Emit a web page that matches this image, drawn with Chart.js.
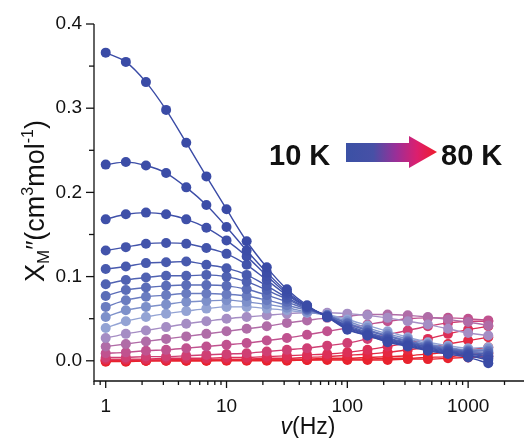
<!DOCTYPE html>
<html>
<head>
<meta charset="utf-8">
<script src="https://cdn.jsdelivr.net/npm/chart.js@4.4.1/dist/chart.umd.min.js"></script>
<style>
html, body { margin: 0; padding: 0; background: #fff; }
#wrap { width: 529px; height: 438px; position: relative; }
</style>
</head>
<body>
<div id="wrap"><canvas id="acChart"></canvas></div>
<script>
// frequencies (Hz), 6 per decade
var freqs = [1, 1.468, 2.154, 3.162, 4.642, 6.813, 10, 14.68, 21.54, 31.62, 46.42, 68.13, 100, 146.8, 215.4, 316.2, 464.2, 681.3, 1000, 1468];

// chi'' values, lowest temperature first
var s01 = [0.366, 0.355, 0.331, 0.298, 0.259, 0.219, 0.180, 0.142, 0.111, 0.085, 0.066, 0.052, 0.037, 0.030, 0.022, 0.017, 0.012, 0.008, 0.004, -0.003];
var s02 = [0.233, 0.236, 0.232, 0.223, 0.206, 0.185, 0.159, 0.131, 0.105, 0.082, 0.065, 0.052, 0.038, 0.030, 0.023, 0.018, 0.013, 0.009, 0.006, 0.001];
var s03 = [0.168, 0.174, 0.176, 0.174, 0.168, 0.158, 0.143, 0.124, 0.101, 0.080, 0.064, 0.052, 0.039, 0.031, 0.024, 0.019, 0.014, 0.010, 0.007, 0.003];
var s04 = [0.131, 0.135, 0.139, 0.140, 0.139, 0.134, 0.127, 0.114, 0.096, 0.078, 0.064, 0.053, 0.040, 0.032, 0.025, 0.020, 0.015, 0.011, 0.008, 0.005];
var s05 = [0.109, 0.112, 0.116, 0.117, 0.118, 0.114, 0.110, 0.102, 0.089, 0.075, 0.063, 0.053, 0.041, 0.033, 0.026, 0.021, 0.016, 0.012, 0.009, 0.006];
var s06 = [0.091, 0.096, 0.099, 0.101, 0.101, 0.102, 0.100, 0.094, 0.084, 0.073, 0.062, 0.053, 0.042, 0.034, 0.027, 0.022, 0.017, 0.013, 0.010, 0.008];
var s07 = [0.077, 0.084, 0.087, 0.089, 0.090, 0.090, 0.089, 0.085, 0.078, 0.070, 0.061, 0.054, 0.044, 0.036, 0.029, 0.023, 0.018, 0.014, 0.011, 0.010];
var s08 = [0.064, 0.072, 0.076, 0.078, 0.080, 0.080, 0.079, 0.077, 0.072, 0.066, 0.060, 0.054, 0.045, 0.037, 0.030, 0.024, 0.019, 0.015, 0.012, 0.012];
var s09 = [0.052, 0.060, 0.064, 0.067, 0.070, 0.071, 0.072, 0.070, 0.067, 0.063, 0.058, 0.054, 0.047, 0.039, 0.032, 0.026, 0.020, 0.016, 0.013, 0.014];
var s10 = [0.039, 0.047, 0.052, 0.056, 0.059, 0.062, 0.064, 0.064, 0.062, 0.060, 0.057, 0.055, 0.049, 0.042, 0.035, 0.028, 0.022, 0.018, 0.015, 0.016];
var s11 = [0.027, 0.032, 0.036, 0.040, 0.044, 0.047, 0.050, 0.052, 0.054, 0.056, 0.057, 0.057, 0.056, 0.054, 0.051, 0.047, 0.043, 0.038, 0.033, 0.030];
var s12 = [0.017, 0.020, 0.023, 0.026, 0.029, 0.032, 0.035, 0.038, 0.041, 0.045, 0.048, 0.051, 0.053, 0.055, 0.055, 0.054, 0.052, 0.049, 0.046, 0.042];
var s13 = [0.009, 0.010, 0.012, 0.013, 0.015, 0.017, 0.019, 0.021, 0.024, 0.027, 0.031, 0.035, 0.039, 0.043, 0.047, 0.050, 0.051, 0.051, 0.050, 0.048];
var s14 = [0.004, 0.004, 0.005, 0.005, 0.006, 0.007, 0.008, 0.009, 0.011, 0.013, 0.015, 0.018, 0.021, 0.026, 0.031, 0.036, 0.041, 0.045, 0.047, 0.047];
var s15 = [0.002, 0.002, 0.002, 0.003, 0.003, 0.003, 0.004, 0.004, 0.005, 0.006, 0.007, 0.008, 0.010, 0.013, 0.017, 0.021, 0.026, 0.032, 0.037, 0.041];
var s16 = [0.001, 0.001, 0.001, 0.001, 0.002, 0.002, 0.002, 0.002, 0.003, 0.003, 0.004, 0.005, 0.0065, 0.008, 0.010, 0.013, 0.016, 0.020, 0.024, 0.028];
var s17 = [0.000, 0.000, 0.000, 0.001, 0.001, 0.001, 0.001, 0.001, 0.002, 0.002, 0.002, 0.003, 0.003, 0.004, 0.005, 0.006, 0.008, 0.010, 0.013, 0.016];
var s18 = [0.000, 0.000, 0.000, 0.000, 0.000, 0.000, 0.001, 0.001, 0.001, 0.001, 0.001, 0.002, 0.002, 0.002, 0.003, 0.003, 0.004, 0.005, 0.007, 0.009];
var s19 = [-0.001, -0.001, 0.000, 0.000, 0.000, 0.000, 0.000, 0.000, 0.000, 0.000, 0.001, 0.001, 0.001, 0.001, 0.001, 0.002, 0.002, 0.003, 0.004, 0.005];

var allSeries = [s01, s02, s03, s04, s05, s06, s07, s08, s09, s10, s11, s12, s13, s14, s15, s16, s17, s18, s19];
var colours = ['#3a4ba6', '#3c4da7', '#3f50a9', '#4354ab', '#485aae', '#5062b2', '#5b6db8', '#6a7cc0', '#7d90ca', '#93a3d4',
               '#a58dc4', '#b06ca7', '#c0528f', '#cf3f74', '#dc2f57', '#e42842', '#e8232f', '#e8232e', '#e8222d'];

var yTicks = [0, 0.1, 0.2, 0.3, 0.4];
var xTicks = [1, 10, 100, 1000];

var FONT = '"Liberation Sans", Arial, sans-serif';

var datasets = [];
for (var i = 0; i < allSeries.length; i++) {
    var pts = [];
    for (var j = 0; j < freqs.length; j++) {
        pts.push({x: freqs[j], y: allSeries[i][j]});
    }
    datasets.push({
        data: pts,
        borderColor: colours[i],
        backgroundColor: colours[i],
        pointBackgroundColor: colours[i],
        pointBorderWidth: 0,
        pointRadius: 5,
        borderWidth: 1.4,
        cubicInterpolationMode: 'monotone',
        fill: false
    });
}

// axis lines, tick marks, titles and the 10 K -> 80 K arrow
var extras = {
    id: 'extras',
    afterDraw: function(chart) {
        var c = chart.ctx, xs = chart.scales.x, ys = chart.scales.y, a = chart.chartArea;
        c.save();
        c.strokeStyle = '#111';
        c.lineWidth = 1.3;
        c.beginPath();
        c.moveTo(a.left, a.top);
        c.lineTo(a.left, a.bottom);
        c.lineTo(a.right, a.bottom);
        c.stroke();
        // x ticks (log minors)
        for (var d = -1; d <= 3; d++) {
            for (var m = 1; m <= 9; m++) {
                var v = m * Math.pow(10, d);
                if (v < xs.min || v > xs.max) continue;
                var px = xs.getPixelForValue(v);
                var len = (m == 1) ? 7 : 4;
                c.beginPath(); c.moveTo(px, a.bottom); c.lineTo(px, a.bottom + len); c.stroke();
            }
        }
        // y ticks
        for (var k = 0; k <= 8; k++) {
            var py = ys.getPixelForValue(k * 0.05);
            var ln = (k % 2 == 0) ? 8 : 5;
            c.beginPath(); c.moveTo(a.left, py); c.lineTo(a.left - ln, py); c.stroke();
        }

        c.fillStyle = '#111';
        c.textBaseline = 'alphabetic';
        c.textAlign = 'left';
        // y title, rotated, reads bottom to top
        c.save();
        c.translate(44, 282);
        c.rotate(-Math.PI / 2);
        var parts = [
            {t: 'X', s: 27, dy: 0}, {t: 'M', s: 17, dy: 5}, {t: '\u2033', s: 26, dy: 0},
            {t: '(cm', s: 27, dy: 0}, {t: '3', s: 16, dy: -11}, {t: 'mol', s: 27, dy: 0},
            {t: '-1', s: 16, dy: -11}, {t: ')', s: 27, dy: 0}
        ];
        var x = 0;
        parts.forEach(function(p) {
            c.font = p.s + 'px ' + FONT;
            c.fillText(p.t, x, p.dy);
            x += c.measureText(p.t).width;
        });
        c.restore();

        // x title
        c.font = 'italic 23px ' + FONT;
        var w1 = c.measureText('v').width;
        c.font = '23px ' + FONT;
        var w2 = c.measureText('(Hz)').width;
        var sx = 308 - (w1 + w2) / 2;
        c.font = 'italic 23px ' + FONT;
        c.fillText('v', sx, 434);
        c.font = '23px ' + FONT;
        c.fillText('(Hz)', sx + w1, 434);

        // annotation
        c.font = 'bold 29px ' + FONT;
        c.fillStyle = '#111';
        c.fillText('10 K', 269, 165);
        c.fillText('80 K', 441, 165);
        var g = c.createLinearGradient(346, 0, 437, 0);
        g.addColorStop(0, '#3b51a5');
        g.addColorStop(0.3, '#4750a6');
        g.addColorStop(0.55, '#9a2f98');
        g.addColorStop(0.78, '#dc1f6e');
        g.addColorStop(1, '#ee1c2c');
        c.fillStyle = g;
        c.beginPath();
        c.moveTo(346, 143);
        c.lineTo(409, 143);
        c.lineTo(409, 136);
        c.lineTo(437, 152);
        c.lineTo(409, 168);
        c.lineTo(409, 162);
        c.lineTo(346, 162);
        c.closePath();
        c.fill();
        c.restore();
    }
};

new Chart(document.getElementById('acChart'), {
    type: 'line',
    data: {datasets: datasets},
    plugins: [extras],
    options: {
        responsive: true,
        maintainAspectRatio: false,
        animation: false,
        layout: {padding: {top: 24, right: 0, left: 0, bottom: 0}},
        plugins: {legend: {display: false}, tooltip: {enabled: false}},
        scales: {
            x: {
                type: 'logarithmic',
                min: 0.8,
                max: 2900,
                grid: {display: false, drawTicks: false},
                border: {display: false},
                afterBuildTicks: function(scale) {
                    scale.ticks = xTicks.map(function(v) { return {value: v}; });
                },
                afterFit: function(scale) { scale.height = 57; },
                ticks: {
                    autoSkip: false,
                    maxRotation: 0,
                    padding: 14,
                    color: '#111',
                    font: {family: FONT, size: 19},
                    callback: function(v) { return String(v); }
                }
            },
            y: {
                min: -0.024,
                max: 0.4,
                grid: {display: false, drawTicks: false},
                border: {display: false},
                afterBuildTicks: function(scale) {
                    scale.ticks = yTicks.map(function(v) { return {value: v}; });
                },
                afterFit: function(scale) { scale.width = 94; },
                ticks: {
                    padding: 12,
                    color: '#111',
                    font: {family: FONT, size: 19},
                    callback: function(v) { return v.toFixed(1); }
                }
            }
        }
    }
});
</script>
</body>
</html>
